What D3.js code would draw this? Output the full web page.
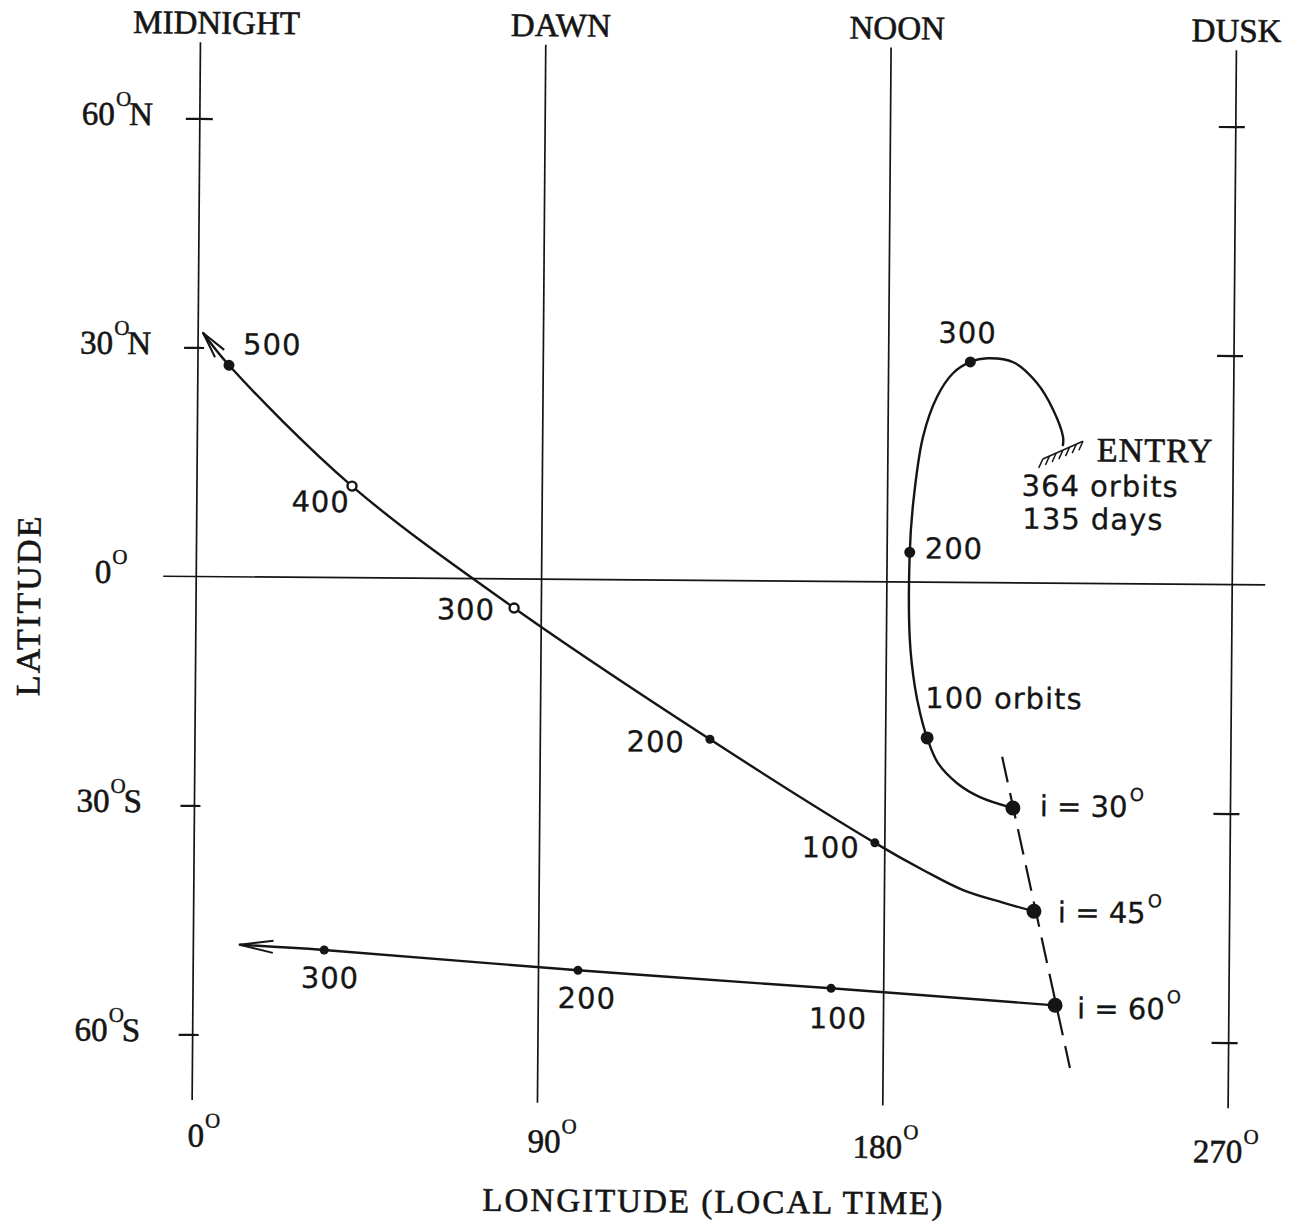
<!DOCTYPE html>
<html><head><meta charset="utf-8">
<script src="https://cdn.jsdelivr.net/npm/d3@7"></script>
<style>body{margin:0;background:#fff;} svg{display:block;}</style>
</head><body>
<svg id="chart" width="1294" height="1221"></svg>
<script>
// ---------------- data ----------------
const latTicks = [60, 30, 0, -30, -60];
const latTickNumbers = ["60", "30", "0", "30", "60"];
const latTickHemis = ["N", "N", "", "S", "S"];
const lonTicks = [0, 90, 180, 270];
const lonTickNumbers = ["0", "90", "180", "270"];
const timeNames = ["MIDNIGHT", "DAWN", "NOON", "DUSK"];
const inclinations = [30, 45, 60];

// ground tracks [longitude (deg local time), latitude (deg)]
const track30 = [[213.3,-29.5],[204.7,-28.1],[198.7,-26.3],[193.7,-23.7],[190.8,-20.4],[188.9,-17.1],[187.5,-13.7],[186.1,-7.6],[185.9,3.9],[186.7,10.4],[189.1,19.0],[192.7,24.3],[196.8,27.4],[201.3,28.9],[205.7,29.4],[212.5,28.9],[218.7,26.2],[223.0,22.7],[225.6,19.2],[225.6,18.1]];
const track45 = [[219.0,-43.0],[210.9,-41.9],[200.5,-40.3],[190.0,-37.7],[177.4,-34.2],[134.2,-20.8],[82.9,-3.8],[40.4,12.0],[8.1,27.7],[1.3,31.9]];
const track60 = [[224.7,-55.3],[166.3,-53.3],[100.3,-51.2],[34.1,-48.8],[12.1,-48.2]];

// orbit marks
const marks30 = [{orbit:0,lon:213.3,lat:-29.5},{orbit:100,lon:190.8,lat:-20.4},{orbit:200,lon:185.9,lat:3.9},{orbit:300,lon:201.3,lat:28.9}];
const marks45 = [{orbit:0,lon:219.0,lat:-43.0},{orbit:100,lon:177.4,lat:-34.2},{orbit:200,lon:134.2,lat:-20.8},{orbit:300,lon:82.9,lat:-3.8},{orbit:400,lon:40.4,lat:12.0},{orbit:500,lon:8.1,lat:27.7}];
const marks60 = [{orbit:0,lon:224.7,lat:-55.3},{orbit:100,lon:166.3,lat:-53.3},{orbit:200,lon:100.3,lat:-51.2},{orbit:300,lon:34.1,lat:-48.8}];

const entryOrbits = 364, entryDays = 135;
const entryPoint = [225.6, 18.1];
const startLocus = [[210.4,-22.8],[228.7,-63.5]];

// ---------------- layout (not data) ----------------
const W = 1294, H = 1221;
const ink = "#151515";
const serif = "'Liberation Serif', 'Times New Roman', serif";
const sans = "'DejaVu Sans', Verdana, sans-serif";

const svg = d3.select("#chart");
svg.append("rect").attr("width", W).attr("height", H).attr("fill", "#fff");
const g = svg.append("g").attr("transform", "rotate(0.45,647,610)");

const x = d3.scaleLinear().domain([0, 270]).range([196, 1232]);
const y = d3.scaleLinear().domain([-60, 60]).range([1038, 122]);

function serifText(sel, fs) {
  return sel.attr("font-family", serif).attr("font-size", fs).attr("fill", ink)
    .attr("stroke", ink).attr("stroke-width", 0.6);
}

// meridian lines (midnight, dawn, noon, dusk)
g.selectAll("line.meridian").data(lonTicks).join("line")
  .attr("class", "meridian")
  .attr("x1", d => x(d)).attr("x2", d => x(d))
  .attr("y1", y(70)).attr("y2", y(-68.6))
  .attr("stroke", ink).attr("stroke-width", 1.7);

// equator
g.append("line")
  .attr("x1", x(-8.6)).attr("x2", x(278.6))
  .attr("y1", y(0)).attr("y2", y(0))
  .attr("stroke", ink).attr("stroke-width", 1.6);

// latitude ticks on the midnight and dusk lines
const tickVals = latTicks.filter(d => d !== 0);
function styleAxis(a) {
  a.select(".domain").remove();
  a.selectAll("line").attr("stroke", ink).attr("stroke-width", 2.2);
  a.selectAll("text").remove();
}
g.append("g").attr("transform", `translate(${x(0)},0)`)
  .call(d3.axisLeft(y).tickValues(tickVals).tickSize(14).tickFormat("")).call(styleAxis);
g.append("g").attr("transform", `translate(${x(0)},0)`)
  .call(d3.axisRight(y).tickValues([60]).tickSize(13).tickFormat("")).call(styleAxis);
g.append("g").attr("transform", `translate(${x(0)},0)`)
  .call(d3.axisRight(y).tickValues([30, -30, -60]).tickSize(6).tickFormat("")).call(styleAxis);
g.append("g").attr("transform", `translate(${x(270)},0)`)
  .call(d3.axisLeft(y).tickValues(tickVals).tickSize(17).tickFormat("")).call(styleAxis);
g.append("g").attr("transform", `translate(${x(270)},0)`)
  .call(d3.axisRight(y).tickValues(tickVals).tickSize(9).tickFormat("")).call(styleAxis);

// latitude tick labels
latTicks.forEach((d, i) => {
  serifText(g.append("text"), 33)
    .attr("x", x(0) - 85).attr("y", y(d) + 7)
    .attr("text-anchor", "end")
    .text(latTickNumbers[i]);
  const t = serifText(g.append("text"), 33)
    .attr("x", x(0) - 84).attr("y", y(d) + 7);
  t.append("tspan").attr("font-size", 21).attr("dy", -19).attr("stroke-width", 0.4).text("O");
  if (latTickHemis[i]) {
    t.append("tspan").attr("font-size", 33).attr("dy", 19).attr("dx", -2).text(latTickHemis[i]);
  }
});

// longitude tick labels
const lonLabelDx = [12, 15, 3, -2];
const lonLabelY = [1150, 1153, 1156, 1158];
lonTicks.forEach((d, i) => {
  const t = serifText(g.append("text"), 33)
    .attr("x", x(d) + lonLabelDx[i]).attr("y", lonLabelY[i])
    .attr("text-anchor", "middle");
  t.append("tspan").text(lonTickNumbers[i]);
  t.append("tspan").attr("font-size", 21).attr("dy", -19).attr("dx", 1).attr("stroke-width", 0.4).text("O");
});

// local-time names on top
const timeDx = [16, 15, 6, 0];
lonTicks.forEach((d, i) => {
  serifText(g.append("text"), 33)
    .attr("x", x(d) + timeDx[i]).attr("y", 37)
    .attr("text-anchor", "middle")
    .text(timeNames[i]);
});

// axis titles
serifText(g.append("text"), 33)
  .attr("x", 718).attr("y", 1212).attr("text-anchor", "middle")
  .attr("letter-spacing", 2)
  .text("LONGITUDE (LOCAL TIME)");
serifText(g.append("text"), 34)
  .attr("transform", "translate(40,610) rotate(-90)")
  .attr("text-anchor", "middle")
  .attr("letter-spacing", 2.2)
  .text("LATITUDE");

// ground tracks
const line = d3.line().x(d => x(d[0])).y(d => y(d[1])).curve(d3.curveCatmullRom.alpha(0.5));
[track30, track45, track60].forEach(tr => {
  g.append("path").attr("d", line(tr))
    .attr("fill", "none").attr("stroke", ink).attr("stroke-width", 2.4)
    .attr("stroke-linejoin", "round").attr("stroke-linecap", "round");
});

// open arrowheads
function arrowHead(from, tip, len, ang) {
  const x0 = x(from[0]), y0 = y(from[1]), x1 = x(tip[0]), y1 = y(tip[1]);
  const a = Math.atan2(y1 - y0, x1 - x0) + Math.PI;
  const p1 = [x1 + len * Math.cos(a + ang), y1 + len * Math.sin(a + ang)];
  const p2 = [x1 + len * Math.cos(a - ang), y1 + len * Math.sin(a - ang)];
  g.append("path").attr("d", `M${p1[0]},${p1[1]}L${x1},${y1}L${p2[0]},${p2[1]}`)
    .attr("fill", "none").attr("stroke", ink).attr("stroke-width", 2)
    .attr("stroke-linejoin", "miter");
}
arrowHead(track45[track45.length - 2], track45[track45.length - 1], 27, 0.22);
arrowHead(track60[track60.length - 2], track60[track60.length - 1], 34, 0.18);

// dashed starting locus
g.append("path").attr("d", d3.line().x(d => x(d[0])).y(d => y(d[1]))(startLocus))
  .attr("fill", "none").attr("stroke", ink).attr("stroke-width", 2.2)
  .attr("stroke-dasharray", "26,11");

// entry hatch at the end of the i=30 track
(function () {
  const ex = x(entryPoint[0]), ey = y(entryPoint[1]);
  const b0 = [ex - 20, ey + 14], b1 = [ex + 20, ey - 4];
  g.append("line").attr("x1", b0[0]).attr("y1", b0[1]).attr("x2", b1[0]).attr("y2", b1[1])
    .attr("stroke", ink).attr("stroke-width", 1.6);
  for (let k = 0; k <= 6; k++) {
    const px = b0[0] + (b1[0] - b0[0]) * k / 6, py = b0[1] + (b1[1] - b0[1]) * k / 6;
    g.append("line").attr("x1", px).attr("y1", py).attr("x2", px - 4).attr("y2", py + 9)
      .attr("stroke", ink).attr("stroke-width", 1.5);
  }
  serifText(g.append("text"), 34).attr("x", ex + 34).attr("y", ey + 16)
    .attr("letter-spacing", 1).text("ENTRY");
  const lbl = (tx, dx, dy) => g.append("text").attr("x", ex + dx).attr("y", ey + dy)
    .attr("font-family", sans).attr("font-size", 29).attr("fill", ink)
    .attr("stroke", ink).attr("stroke-width", 0.3).attr("letter-spacing", 1).text(tx);
  lbl(`${entryOrbits} orbits`, -41, 51);
  lbl(`${entryDays} days`, -40, 84);
})();

// orbit dots
function drawMarks(marks, inc) {
  marks.forEach(m => {
    let r = 4.5, hollow = false;
    if (m.orbit === 0) r = 7.5;
    else if (inc === 30 && m.orbit === 100) r = 6.5;
    else if (inc === 30) r = 5.5;
    else if (inc === 45 && m.orbit === 500) r = 5.5;
    if (inc === 45 && (m.orbit === 300 || m.orbit === 400)) hollow = true;
    g.append("circle").attr("cx", x(m.lon)).attr("cy", y(m.lat)).attr("r", r)
      .attr("fill", hollow ? "#fff" : ink).attr("stroke", ink).attr("stroke-width", hollow ? 2.4 : 0);
  });
}
drawMarks(marks30, 30); drawMarks(marks45, 45); drawMarks(marks60, 60);

// orbit labels (pixel offsets from each dot)
const labelPos = {
  30: {100: [-2, -30, "start", " orbits"], 200: [15, 6, "start", ""], 300: [-3, -19, "middle", ""]},
  45: {100: [-15, 15, "end", ""], 200: [-25, 13, "end", ""], 300: [-19, 12, "end", ""], 400: [-2, 26, "end", ""], 500: [14, -11, "start", ""]},
  60: {100: [7, 40, "middle", ""], 200: [9, 38, "middle", ""], 300: [6, 38, "middle", ""]}
};
[[marks30, 30], [marks45, 45], [marks60, 60]].forEach(([marks, inc]) => {
  marks.forEach(m => {
    if (m.orbit === 0) return;
    const p = labelPos[inc][m.orbit];
    g.append("text").attr("x", x(m.lon) + p[0]).attr("y", y(m.lat) + p[1])
      .attr("text-anchor", p[2]).attr("font-family", sans).attr("font-size", 29)
      .attr("letter-spacing", 1).attr("fill", ink).attr("stroke", ink).attr("stroke-width", 0.3)
      .text(m.orbit + p[3]);
  });
});

// inclination labels
const incPos = {30: [27, 8], 45: [24, 11], 60: [22, 13]};
[[marks30, 30], [marks45, 45], [marks60, 60]].forEach(([marks, inc]) => {
  const m = marks[0];
  const t = g.append("text").attr("x", x(m.lon) + incPos[inc][0]).attr("y", y(m.lat) + incPos[inc][1])
    .attr("font-family", sans).attr("font-size", 29).attr("fill", ink)
    .attr("stroke", ink).attr("stroke-width", 0.3);
  t.append("tspan").text(`i = ${inc}`);
  t.append("tspan").attr("font-size", 18).attr("dy", -16).attr("dx", 2).text("O");
});
</script>
</body></html>
